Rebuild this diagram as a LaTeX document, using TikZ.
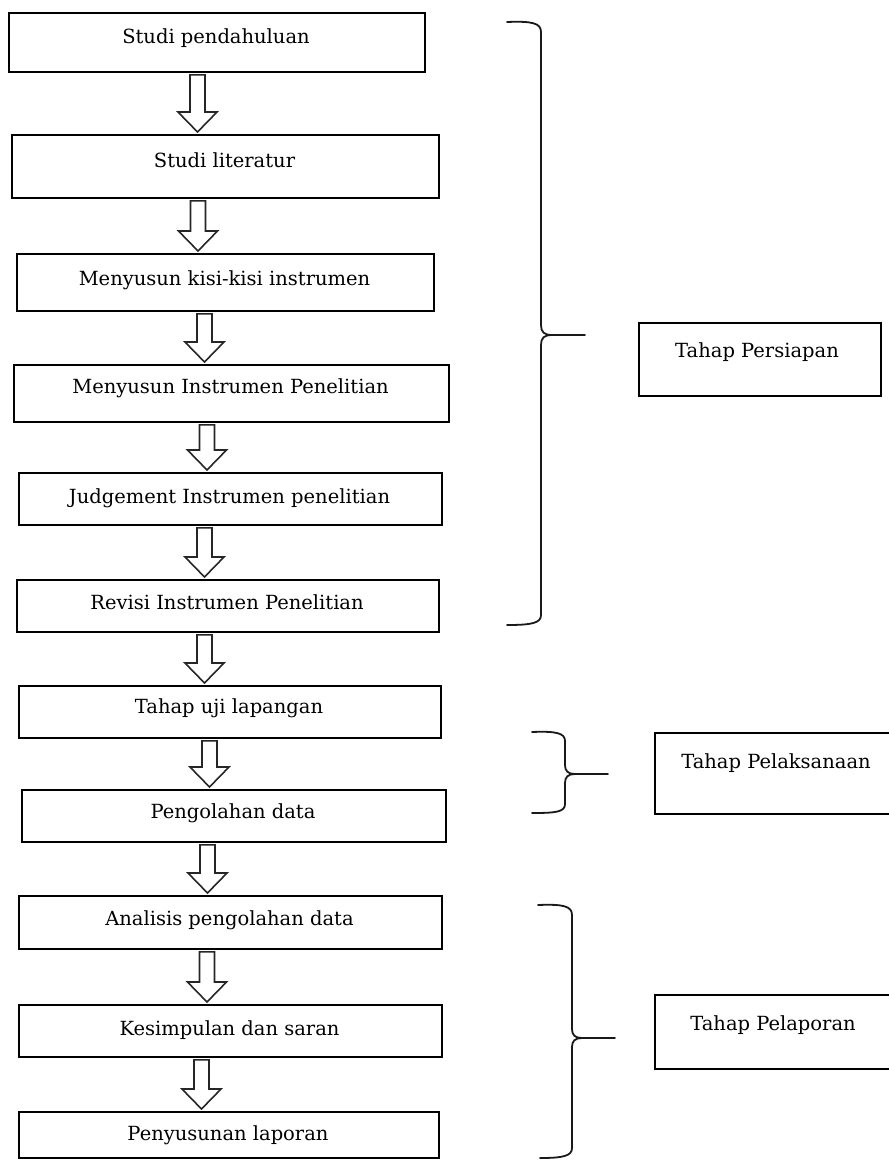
\documentclass[tikz,border=0pt]{standalone}
\usepackage{fontspec}
\setmainfont{DejaVu Serif}
\usetikzlibrary{calc}
\tikzset{
  box/.style={draw=black, line width=1.8pt, inner sep=0pt, anchor=north west},
  txt/.style={anchor=base, inner sep=0pt, text=black, font=\fontsize{19.5}{22}\selectfont},
  arr/.style={draw=black!85, line width=1.6pt, fill=white, line join=miter},
  brace/.style={draw=black!90, line width=1.8pt, line cap=round},
}
\newcommand{\blockarr}[3]{%
  \draw[arr] let \p1=(#1.south), \p2=(#2.north) in
    (#3pt-7.5pt,\y1-2pt) -- (#3pt+7.5pt,\y1-2pt) -- (#3pt+7.5pt,\y2+22pt)
    -- (#3pt+19.5pt,\y2+22pt) -- (#3pt,\y2+2pt) -- (#3pt-19.5pt,\y2+22pt)
    -- (#3pt-7.5pt,\y2+22pt) -- cycle;}
\begin{document}
\begin{tikzpicture}[x=1pt,y=-1pt]
\useasboundingbox (0,0) rectangle (889,1160);
\clip (0,0) rectangle (889,1160);
% left column boxes
\node[box, minimum width=416pt, minimum height=59pt] (b1) at (8,12) {};
\node[box, minimum width=427pt, minimum height=63pt] (b2) at (11,134) {};
\node[box, minimum width=417pt, minimum height=57pt] (b3) at (16,253) {};
\node[box, minimum width=435pt, minimum height=57pt] (b4) at (13,364) {};
\node[box, minimum width=423pt, minimum height=52pt] (b5) at (18,472) {};
\node[box, minimum width=422pt, minimum height=52pt] (b6) at (16,579) {};
\node[box, minimum width=422pt, minimum height=52pt] (b7) at (18,685) {};
\node[box, minimum width=424pt, minimum height=52pt] (b8) at (21,789) {};
\node[box, minimum width=423pt, minimum height=53pt] (b9) at (18,895) {};
\node[box, minimum width=423pt, minimum height=52pt] (b10) at (18,1004) {};
\node[box, minimum width=420pt, minimum height=46pt] (b11) at (18,1111) {};
% texts
\node[txt] (t1) at (216,43) {Studi pendahuluan};
\node[txt] (t2) at (224.5,167) {Studi literatur};
\node[txt] (t3) at (224.5,285) {Menyusun kisi-kisi instrumen};
\node[txt] (t4) at (230.5,393) {Menyusun Instrumen Penelitian};
\node[txt] (t5) at (229.5,503) {Judgement Instrumen penelitian};
\node[txt] (t6) at (227,609) {Revisi Instrumen Penelitian};
\node[txt] (t7) at (229,713) {Tahap uji lapangan};
\node[txt] (t8) at (233,818) {Pengolahan data};
\node[txt] (t9) at (229.5,925) {Analisis pengolahan data};
\node[txt] (t10) at (229.5,1035) {Kesimpulan dan saran};
\node[txt] (t11) at (228,1140) {Penyusunan laporan};
% right boxes
\node[box, minimum width=242pt, minimum height=73pt] (p1) at (638,322) {};
\node[box, minimum width=251pt, minimum height=81pt] (p2) at (654,732) {};
\node[box, minimum width=251pt, minimum height=74pt] (p3) at (654,994) {};
\node[txt] (s1) at (757,357) {Tahap Persiapan};
\node[txt] (s2) at (776,768) {Tahap Pelaksanaan};
\node[txt] (s3) at (773,1030) {Tahap Pelaporan};
% block arrows
\blockarr{b1}{b2}{197.5}
\blockarr{b2}{b3}{198}
\blockarr{b3}{b4}{204.5}
\blockarr{b4}{b5}{207}
\blockarr{b5}{b6}{204.5}
\blockarr{b6}{b7}{204.5}
\blockarr{b7}{b8}{209.5}
\blockarr{b8}{b9}{207.5}
\blockarr{b9}{b10}{207}
\blockarr{b10}{b11}{201.5}
% braces
\draw[brace] (507,22) .. controls (532,21) and (541,23) .. (541,32) -- (541,325)
  .. controls (541,332) and (544,335) .. (552,335) -- (585,335);
\draw[brace] (552,335) .. controls (544,335) and (541,338) .. (541,345) -- (541,615)
  .. controls (541,623) and (532,625) .. (507,625);
\draw[brace] (532,732) .. controls (556,731) and (565,733) .. (565,741) -- (565,765)
  .. controls (565,771) and (568,774) .. (575,774) -- (608,774);
\draw[brace] (575,774) .. controls (568,774) and (565,777) .. (565,783) -- (565,804)
  .. controls (565,812) and (556,813) .. (532,813);
\draw[brace] (538,905) .. controls (563,904) and (572,906) .. (572,915) -- (572,1029)
  .. controls (572,1035) and (575,1038) .. (582,1038) -- (615,1038);
\draw[brace] (582,1038) .. controls (575,1038) and (572,1041) .. (572,1047) -- (572,1148)
  .. controls (572,1156) and (563,1158) .. (540,1158);
\end{tikzpicture}
\end{document}
